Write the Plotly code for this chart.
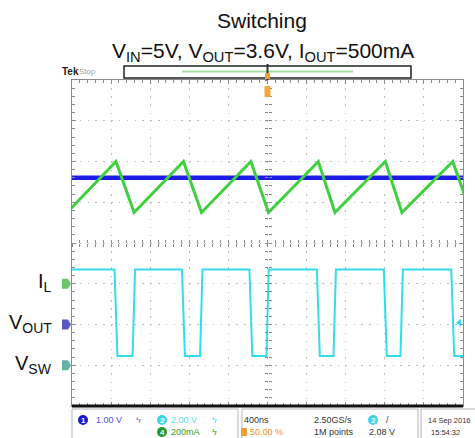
import plotly.graph_objects as go

# ---------------- data (read from the scope capture) ----------------
# channel settings
CH1_SCALE_V = 1.0      # VOUT, V/div
CH2_SCALE_V = 2.0      # VSW, V/div
CH4_SCALE_MA = 200.0   # IL, mA/div
CH1_OFFSET_DIV = 2.0
CH2_OFFSET_DIV = 1.0
CH4_OFFSET_DIV = 3.0
TIME_PER_DIV_NS = 400
TRIGGER_LEVEL_V = 2.08

time_il_ns = [-2050, -1550, -1365, -860, -675, -170, 10, 520, 690, 1205, 1375, 1895, 2080]
il_ma = [350, 600, 350, 600, 350, 600, 350, 600, 350, 600, 350, 600, 350]

time_vsw_ns = [-2100, -1565, -1535, -1380, -1355, -875, -845, -690, -665, -185, -155, -10,
               12, 505, 535, 675, 700, 1190, 1220, 1360, 1385, 1880, 1910, 2100]
vsw_v = [4.7, 4.7, 0.45, 0.45, 4.7, 4.7, 0.45, 0.45, 4.7, 4.7, 0.45, 0.45,
         4.7, 4.7, 0.45, 0.45, 4.7, 4.7, 0.45, 0.45, 4.7, 4.7, 0.45, 0.45]

time_vout_ns = [-2000, 2000]
vout_v = [3.6, 3.6]

status_row1 = ["1.00 V", "2.00 V", "400ns", "2.50GS/s", "14 Sep 2016"]
status_row2 = ["200mA", "50.00 %", "1M points", "2.08 V", "15:54:32"]

# ---------------- figure ----------------
W, H = 475, 438
L, R, T, B = 72, 463, 80, 406


def px_x(p):
    return (p - L) / (R - L)


def px_y(p):
    return (B - p) / (B - T)


def to_div(vals, scale, offset):
    return [offset + v / scale for v in vals]


fig = go.Figure()

fig.add_trace(go.Scatter(x=time_vout_ns, y=to_div(vout_v, CH1_SCALE_V, CH1_OFFSET_DIV),
                         mode="lines", line=dict(color="#1c1ce6", width=4.5),
                         showlegend=False, hoverinfo="skip"))
fig.add_trace(go.Scatter(x=time_il_ns, y=to_div(il_ma, CH4_SCALE_MA, CH4_OFFSET_DIV),
                         mode="lines", line=dict(color="#3fcf3f", width=3),
                         showlegend=False, hoverinfo="skip"))
fig.add_trace(go.Scatter(x=time_vsw_ns, y=to_div(vsw_v, CH2_SCALE_V, CH2_OFFSET_DIV),
                         mode="lines", line=dict(color="#33dcec", width=2),
                         showlegend=False, hoverinfo="skip"))
# empty traces to host the centre cross-hair axes
for xa, ya in [("x2", "y"), ("x3", "y"), ("x", "y2"), ("x", "y3")]:
    fig.add_trace(go.Scatter(x=[], y=[], xaxis=xa, yaxis=ya, showlegend=False, hoverinfo="skip"))

XR = [-5 * TIME_PER_DIV_NS, 5 * TIME_PER_DIV_NS]
YR = [0, 8]
GRID = "#bdbdbd"
EDGE = "#8a8a8a"

common_x = dict(range=XR, showticklabels=False, zeroline=False, fixedrange=True)
common_y = dict(range=YR, showticklabels=False, zeroline=False, fixedrange=True)

fig.update_layout(
    width=W, height=H,
    margin=dict(l=L, r=W - R, t=T, b=H - B),
    paper_bgcolor="white", plot_bgcolor="white",
    xaxis=dict(**common_x, dtick=TIME_PER_DIV_NS, tick0=0, showgrid=True, gridcolor=GRID,
               griddash="1.5px,6.65px", gridwidth=1, showline=True, linecolor=EDGE,
               linewidth=1, mirror="ticks", ticks="inside", ticklen=4, tickcolor=EDGE,
               minor=dict(dtick=TIME_PER_DIV_NS / 5, ticks="inside", ticklen=3,
                          tickcolor=EDGE, showgrid=False)),
    yaxis=dict(**common_y, dtick=1, tick0=0, showgrid=True, gridcolor=GRID,
               griddash="1.5px,6.32px", gridwidth=1, showline=True, linecolor=EDGE,
               linewidth=1, mirror="ticks", ticks="inside", ticklen=4, tickcolor=EDGE,
               minor=dict(dtick=0.2, ticks="inside", ticklen=3, tickcolor=EDGE,
                          showgrid=False)),
    xaxis2=dict(**common_x, overlaying="x", anchor="free", position=0.5, showgrid=False,
                showline=False, ticks="inside", ticklen=3, dtick=TIME_PER_DIV_NS / 5,
                tickcolor=EDGE),
    xaxis3=dict(**common_x, overlaying="x", anchor="free", position=0.5, showgrid=False,
                showline=False, ticks="outside", ticklen=3, dtick=TIME_PER_DIV_NS / 5,
                tickcolor=EDGE),
    yaxis2=dict(**common_y, overlaying="y", anchor="free", position=0.5, showgrid=False,
                showline=False, ticks="inside", ticklen=3, dtick=0.2, tickcolor=EDGE),
    yaxis3=dict(**common_y, overlaying="y", anchor="free", position=0.5, showgrid=False,
                showline=False, ticks="outside", ticklen=3, dtick=0.2, tickcolor=EDGE),
)

shapes = []
# bottom thick edge
shapes.append(dict(type="line", xref="paper", yref="paper", x0=0, x1=1, y0=0, y1=0,
                   line=dict(color="#111", width=3)))
# record bar
shapes.append(dict(type="rect", xref="paper", yref="paper", x0=px_x(124), x1=px_x(411),
                   y0=px_y(78), y1=px_y(66), line=dict(color="#222", width=1.5),
                   fillcolor="white"))
shapes.append(dict(type="line", xref="paper", yref="paper", x0=px_x(182), x1=px_x(353),
                   y0=px_y(71.5), y1=px_y(71.5), line=dict(color="#a6dca6", width=2)))
# trigger position
shapes.append(dict(type="line", xref="x", yref="paper", x0=0, x1=0, y0=px_y(80),
                   y1=px_y(64), line=dict(color="#333", width=2)))
shapes.append(dict(type="rect", xref="x", yref="paper", xsizemode="pixel", xanchor=0,
                   x0=-2.5, x1=2.5, y0=px_y(79), y1=px_y(73), fillcolor="#f0a030",
                   line=dict(width=0)))
shapes.append(dict(type="rect", xref="x", yref="paper", xsizemode="pixel", xanchor=0,
                   x0=-3, x1=3, y0=px_y(97), y1=px_y(86), fillcolor="#f2a640",
                   line=dict(width=0)))
# channel ground tags
for off, col in [(CH4_OFFSET_DIV, "#6cc46c"), (CH1_OFFSET_DIV, "#5656c4"),
                 (CH2_OFFSET_DIV, "#62b4a6")]:
    shapes.append(dict(type="path", xref="paper", yref="y", xsizemode="pixel",
                       ysizemode="pixel", xanchor=0, yanchor=off,
                       path="M -10,-5 L -4,-5 L -1,0 L -4,5 L -10,5 Z",
                       fillcolor=col, line=dict(width=0)))
# trigger level marker (ch2)
shapes.append(dict(type="path", xref="paper", yref="y", xsizemode="pixel",
                   ysizemode="pixel", xanchor=1,
                   yanchor=CH2_OFFSET_DIV + TRIGGER_LEVEL_V / CH2_SCALE_V,
                   path="M -7,0 L -2,-4 L -2,4 Z", fillcolor="#33dcec",
                   line=dict(width=0)))
# status boxes
for x0, x1 in [(72, 238), (242, 418), (421, 480)]:
    shapes.append(dict(type="rect", xref="paper", yref="paper", x0=px_x(x0), x1=px_x(x1),
                       y0=px_y(441), y1=px_y(409), line=dict(color="#b5b5b5", width=1)))
# channel circles
circles = [(83, 420, "#1a1ad0", "1"), (162, 420, "#3fd4e6", "2"),
           (162, 432, "#1f9a2a", "4"), (373, 420, "#3fd4e6", "2")]
for cx, cy, col, _ in circles:
    shapes.append(dict(type="circle", xref="paper", yref="paper", xsizemode="pixel",
                       ysizemode="pixel", xanchor=px_x(cx), yanchor=px_y(cy),
                       x0=-5, x1=5, y0=-5, y1=5, fillcolor=col, line=dict(width=0)))
shapes.append(dict(type="rect", xref="paper", yref="paper", xsizemode="pixel",
                   ysizemode="pixel", xanchor=px_x(244), yanchor=px_y(432),
                   x0=-3, x1=3, y0=-4, y1=4, fillcolor="#f0a030", line=dict(width=0)))
fig.update_layout(shapes=shapes)

ann = []
TITLE_FONT = "Liberation Sans, Arial, sans-serif"
ann.append(dict(text="Switching", x=px_x(262), y=px_y(21), xref="paper", yref="paper",
                xanchor="center", yanchor="middle", showarrow=False,
                font=dict(family=TITLE_FONT, size=21, color="#111")))
ann.append(dict(text="V<sub>IN</sub>=5V, V<sub>OUT</sub>=3.6V, I<sub>OUT</sub>=500mA",
                x=px_x(263), y=px_y(52), xref="paper", yref="paper",
                xanchor="center", yanchor="middle", showarrow=False,
                font=dict(family=TITLE_FONT, size=21, color="#111")))
for txt, off in [("I<sub>L</sub>", CH4_OFFSET_DIV), ("V<sub>OUT</sub>", CH1_OFFSET_DIV),
                 ("V<sub>SW</sub>", CH2_OFFSET_DIV)]:
    ann.append(dict(text=txt, x=px_x(54), y=off, xref="paper", yref="y",
                    xanchor="right", yanchor="middle", showarrow=False, yshift=1,
                    font=dict(family=TITLE_FONT, size=20, color="#111")))
# Tek / Stop
ann.append(dict(text="<b>Tek</b>", x=px_x(60), y=px_y(71.5), xref="paper", yref="paper",
                xanchor="left", yanchor="middle", showarrow=False,
                font=dict(family="Liberation Sans Narrow, Liberation Sans, sans-serif",
                          size=10, color="#222")))
ann.append(dict(text="Stop", x=px_x(77), y=px_y(71.5), xref="paper", yref="paper",
                xanchor="left", yanchor="middle", showarrow=False,
                font=dict(family="Liberation Sans Narrow, Liberation Sans, sans-serif",
                          size=8, color="#a0a0a0")))

SF = "Liberation Sans Narrow, Liberation Sans, Arial, sans-serif"
row1 = [(status_row1[0], 95, "#5050d0", 9, "left"), ("ϟ", 135, "#7060c0", 9, "left"),
        (status_row1[1], 170, "#55d6e6", 9, "left"), ("ϟ", 211, "#50c8e0", 9, "left"),
        (status_row1[2], 243, "#333", 9, "left"), (status_row1[3], 313, "#333", 9, "left"),
        ("/", 385, "#333", 9, "left"), (status_row1[4], 472, "#333", 7.5, "right")]
row2 = [(status_row2[0], 170, "#2aa02a", 9, "left"), ("ϟ", 211, "#2aa02a", 9, "left"),
        (status_row2[1], 249, "#f09020", 9, "left"), (status_row2[2], 313, "#333", 9, "left"),
        (status_row2[3], 368, "#333", 9, "left"), (status_row2[4], 430, "#333", 7.5, "left")]
for row, yy in [(row1, 420), (row2, 432)]:
    for txt, xx, col, fs, anc in row:
        ann.append(dict(text=txt, x=px_x(xx), y=px_y(yy), xref="paper", yref="paper",
                        xanchor=anc, yanchor="middle", showarrow=False, borderpad=0,
                        font=dict(family=SF, size=fs, color=col)))
for cx, cy, _, num in circles:
    ann.append(dict(text="<b>%s</b>" % num, x=px_x(cx), y=px_y(cy), xref="paper",
                    yref="paper", xanchor="center", yanchor="middle", showarrow=False,
                    font=dict(family=SF, size=8, color="white")))
fig.update_layout(annotations=ann)

fig.write_html("out.html", config={"displayModeBar": False},
               post_script="document.body.style.margin='0';document.body.style.padding='0';")
